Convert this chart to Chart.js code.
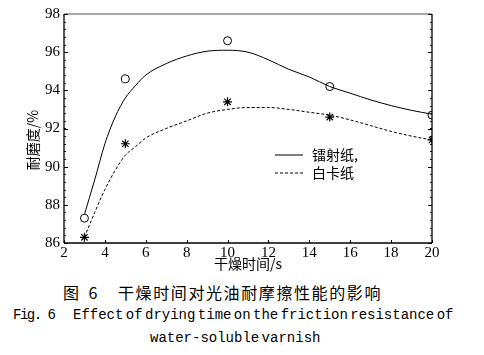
<!DOCTYPE html>
<html><head><meta charset="utf-8">
<script src="https://cdn.jsdelivr.net/npm/chart.js@4/dist/chart.umd.min.js"></script>
<style>
html,body{margin:0;padding:0;background:#fff;width:484px;height:355px;overflow:hidden}
#wrap{position:absolute;left:0;top:0;width:484px;height:272px}
.cap{position:absolute;color:#000;white-space:pre}
.cn{font:16px 'Noto Sans CJK SC';line-height:20px;top:282px}
.en{font:14px 'Liberation Mono';line-height:16px}
</style></head><body>
<div id="wrap"><canvas id="c" width="484" height="272"></canvas></div>
<div class="cap cn" style="left:63px;letter-spacing:3px">图 6</div>
<div class="cap cn" style="left:118px;letter-spacing:1.6px">干燥时间对光油耐摩擦性能的影响</div>
<div class="cap en" style="left:13px;top:307px;letter-spacing:-1.5px">Fig. 6</div>
<div class="cap en" style="left:73px;top:307px;word-spacing:-6px">Effect of drying time on the friction resistance of</div>
<div class="cap en" style="left:150px;top:330px;word-spacing:-6px">water-soluble varnish</div>
<script>
const xTicks = [2, 4, 6, 8, 10, 12, 14, 16, 18, 20];
const yTicks = [86, 88, 90, 92, 94, 96, 98];
const sampleTimes = [3, 5, 10, 15, 20];
const laserMeasured = [87.3, 94.6, 96.6, 94.2, 92.7];
const whiteMeasured = [86.3, 91.2, 93.4, 92.6, 91.4];
const fitTimes = [3, 3.5, 4, 4.5, 5, 5.5, 6, 7, 8, 9, 10, 11, 12, 13, 14, 15, 16, 17, 18, 19, 20];
const laserFit = [87.5, 89.3, 91.2, 92.6, 93.6, 94.25, 94.8, 95.4, 95.8, 96.05, 96.1, 96.0, 95.6, 95.1, 94.7, 94.2, 93.85, 93.5, 93.2, 92.95, 92.75];
const whiteFit = [86.3, 87.6, 88.8, 89.8, 90.6, 91.05, 91.5, 92.0, 92.4, 92.8, 93.0, 93.1, 93.1, 93.0, 92.85, 92.7, 92.45, 92.15, 91.85, 91.6, 91.4];
const seriesNames = ['镭射纸,', '白卡纸'];
const xTitle = '干燥时间/s';
const yTitle = '耐磨度/%';

const pts = (xs, ys) => xs.map((x, i) => ({x, y: ys[i]}));

const framePlugin = {
  id: 'frame',
  afterDatasetsDraw(chart) {
    const {ctx, chartArea: a, scales: {x, y}} = chart;
    const ln = (x1, y1, x2, y2) => { ctx.beginPath(); ctx.moveTo(x1, y1); ctx.lineTo(x2, y2); ctx.stroke(); };
    ctx.save();
    ctx.strokeStyle = '#a8a8a8'; ctx.lineWidth = 2;
    ln(a.left, a.top, a.right, a.top);
    ctx.strokeStyle = '#000'; ctx.lineWidth = 1.3;
    ln(a.left, a.top, a.left, a.bottom);
    ln(a.left, a.bottom, a.right, a.bottom);
    ln(a.right, a.top, a.right, a.bottom);
    ctx.lineWidth = 1;
    for (let v = y.min; v <= y.max + 1e-6; v += 0.4) {
      const py = Math.round(y.getPixelForValue(v)) + 0.5;
      ln(a.left, py, a.left + 2, py);
      ln(a.right - 2, py, a.right, py);
    }
    y.ticks.forEach(t => {
      const py = Math.round(y.getPixelForValue(t.value)) + 0.5;
      ln(a.left, py, a.left + 4, py);
      ln(a.right - 4, py, a.right, py);
    });
    x.ticks.forEach(t => {
      const px = Math.round(x.getPixelForValue(t.value)) + 0.5;
      ln(px, a.bottom, px, a.bottom - 3);
    });
    ctx.restore();
  },
  afterDraw(chart) {
    const {ctx, chartArea: a} = chart;
    const x0 = a.left + 211, y0 = a.top + 141;
    ctx.save();
    ctx.font = "14px 'Noto Sans CJK SC'";
    ctx.textBaseline = 'middle';
    ctx.fillStyle = '#000';
    chart.data.datasets.filter(d => d.inLegend).forEach((d, i) => {
      const yy = y0 + i * 18;
      ctx.strokeStyle = '#000'; ctx.lineWidth = 1;
      ctx.setLineDash(d.borderDash || []);
      ctx.beginPath(); ctx.moveTo(x0, yy); ctx.lineTo(x0 + 28, yy); ctx.stroke();
      ctx.setLineDash([]);
      ctx.fillText(d.label, x0 + 37, yy);
    });
    // y axis title
    ctx.translate(33, a.top + 126);
    ctx.rotate(-Math.PI / 2);
    ctx.textAlign = 'center';
    ctx.fillText(yTitle, 0, 0);
    ctx.restore();
  }
};

new Chart(document.getElementById('c'), {
  type: 'scatter',
  data: {
    datasets: [
      {type: 'line', label: seriesNames[0], inLegend: true, data: pts(fitTimes, laserFit), borderColor: '#000', borderWidth: 1, pointRadius: 0, cubicInterpolationMode: 'monotone', fill: false},
      {type: 'line', label: seriesNames[1], inLegend: true, data: pts(fitTimes, whiteFit), borderColor: '#000', borderWidth: 1, borderDash: [3, 2], pointRadius: 0, cubicInterpolationMode: 'monotone', fill: false},
      {label: seriesNames[0] + ' 实测', data: pts(sampleTimes, laserMeasured), pointStyle: 'circle', pointRadius: 4, backgroundColor: '#fff', borderColor: '#000', borderWidth: 1, clip: 0},
      {label: seriesNames[1] + ' 实测', data: pts(sampleTimes, whiteMeasured), pointStyle: 'star', pointRadius: 4.5, backgroundColor: '#000', borderColor: '#000', borderWidth: 1.2, clip: 0}
    ]
  },
  options: {
    responsive: false,
    animation: false,
    layout: {padding: {left: 0, top: 14, right: 52, bottom: 0}},
    plugins: {legend: {display: false}, tooltip: {enabled: false}},
    scales: {
      x: {
        type: 'linear', min: 2, max: 20,
        afterBuildTicks: s => { s.ticks = xTicks.map(v => ({value: v})); },
        afterFit: s => { s.height = 29; },
        grid: {display: false, drawTicks: false},
        border: {display: false},
        ticks: {color: '#000', padding: 1, maxRotation: 0, font: {family: 'Liberation Serif', size: 15}},
        title: {display: true, text: xTitle, color: '#000', padding: 0, font: {family: 'Noto Sans CJK SC', size: 14}}
      },
      y: {
        type: 'linear', min: 86, max: 98,
        afterBuildTicks: s => { s.ticks = yTicks.map(v => ({value: v})); },
        afterFit: s => { s.width = 64; },
        grid: {display: false, drawTicks: false},
        border: {display: false},
        ticks: {color: '#000', padding: 4, font: {family: 'Liberation Serif', size: 15}},
        title: {display: false}
      }
    }
  },
  plugins: [framePlugin]
});
</script>
</body></html>
